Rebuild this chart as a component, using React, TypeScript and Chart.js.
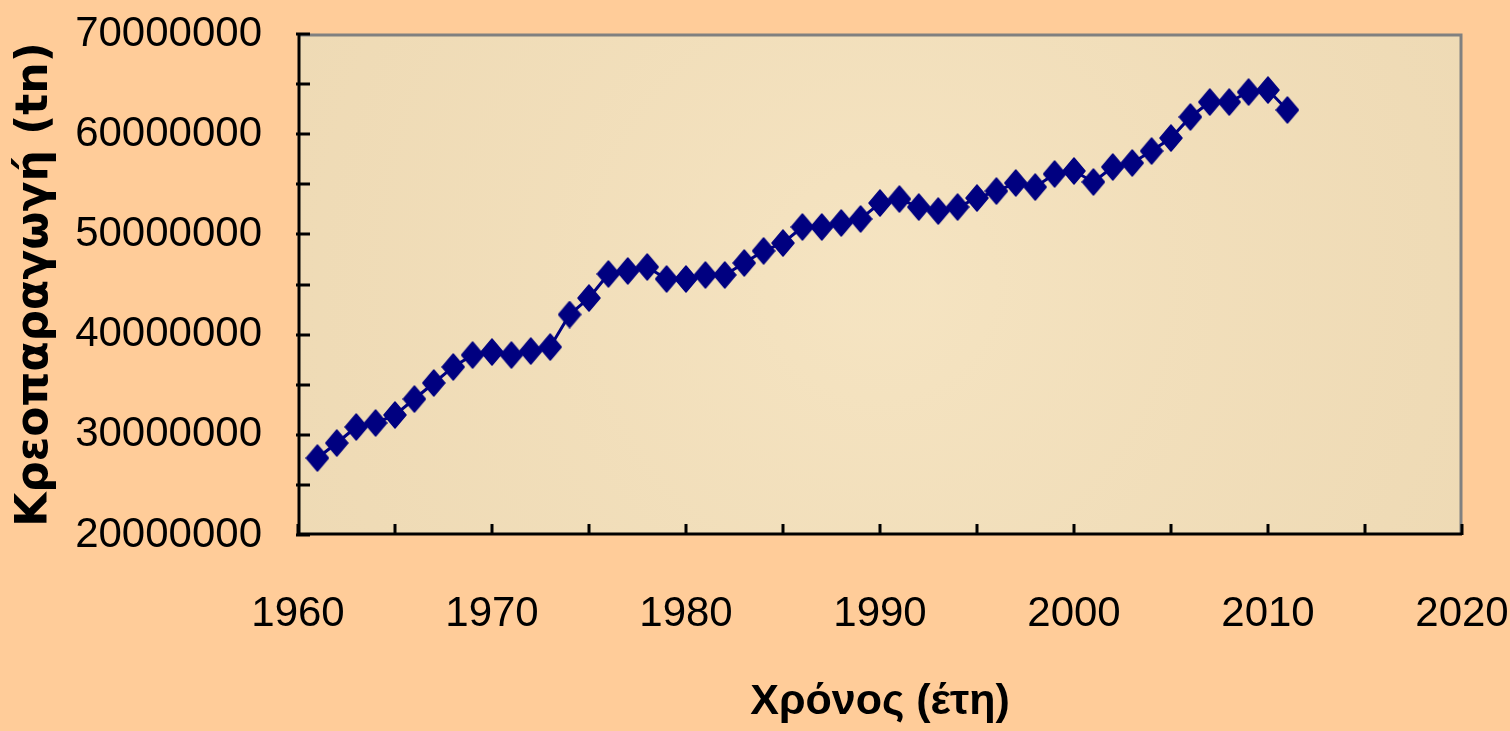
import React, { useEffect, useRef } from "react";
import { Chart, registerables } from "chart.js";

Chart.register(...registerables);

const years: number[] = [
  1961, 1962, 1963, 1964, 1965, 1966, 1967, 1968, 1969, 1970,
  1971, 1972, 1973, 1974, 1975, 1976, 1977, 1978, 1979, 1980,
  1981, 1982, 1983, 1984, 1985, 1986, 1987, 1988, 1989, 1990,
  1991, 1992, 1993, 1994, 1995, 1996, 1997, 1998, 1999, 2000,
  2001, 2002, 2003, 2004, 2005, 2006, 2007, 2008, 2009, 2010, 2011,
];

const meatProduction: number[] = [
  27680000, 29180000, 30780000, 31180000, 31980000, 33570000, 35170000, 36770000, 37960000, 38260000,
  37960000, 38360000, 38760000, 42000000, 43650000, 46050000, 46350000, 46750000, 45550000, 45550000,
  45950000, 45950000, 47150000, 48350000, 49140000, 50740000, 50740000, 51140000, 51540000, 53130000,
  53530000, 52730000, 52330000, 52730000, 53630000, 54330000, 55130000, 54730000, 56030000, 56330000,
  55230000, 56730000, 57130000, 58320000, 59620000, 61720000, 63210000, 63210000, 64210000, 64410000, 62420000,
];

const xTickYears: number[] = [1960, 1970, 1980, 1990, 2000, 2010, 2020];
const yTickValues: number[] = [20000000, 30000000, 40000000, 50000000, 60000000, 70000000];

const xTitle = "Χρόνος (έτη)";
const yTitle = "Κρεοπαραγωγή (tn)";

const PAGE_BG = "#FFCC99";
const PLOT_BG = "#F2DFBA";
const NAVY = "#000080";
const SANS = "'Liberation Sans', Arial, sans-serif";

function makeDiamond(): HTMLCanvasElement {
  const w = 24;
  const h = 28;
  const c = document.createElement("canvas");
  c.width = w;
  c.height = h;
  const ctx = c.getContext("2d")!;
  ctx.fillStyle = NAVY;
  ctx.strokeStyle = NAVY;
  ctx.lineWidth = 1.5;
  ctx.lineJoin = "round";
  ctx.beginPath();
  ctx.moveTo(w / 2, 1);
  ctx.lineTo(w - 1, h / 2);
  ctx.lineTo(w / 2, h - 1);
  ctx.lineTo(1, h / 2);
  ctx.closePath();
  ctx.fill();
  ctx.stroke();
  return c;
}

const framePlugin = {
  id: "frame",
  beforeDraw(chart: any) {
    const { ctx, chartArea: a } = chart;
    ctx.save();
    ctx.fillStyle = PAGE_BG;
    ctx.fillRect(0, 0, chart.width, chart.height);
    ctx.fillStyle = PLOT_BG;
    ctx.fillRect(a.left, a.top, a.right - a.left, a.bottom - a.top);
    const g = ctx.createRadialGradient(
      (a.left + a.right) / 2, (a.top + a.bottom) / 2, 50,
      (a.left + a.right) / 2, (a.top + a.bottom) / 2, (a.right - a.left) / 1.6
    );
    g.addColorStop(0, "rgba(250,235,205,0.35)");
    g.addColorStop(1, "rgba(225,200,160,0.25)");
    ctx.fillStyle = g;
    ctx.fillRect(a.left, a.top, a.right - a.left, a.bottom - a.top);
    ctx.restore();
  },
  beforeDatasetsDraw(chart: any) {
    const { ctx, chartArea: a, scales } = chart;
    ctx.save();
    ctx.strokeStyle = "#808080";
    ctx.lineWidth = 3;
    ctx.beginPath();
    ctx.moveTo(a.left, a.top + 1);
    ctx.lineTo(a.right - 1, a.top + 1);
    ctx.lineTo(a.right - 1, a.bottom);
    ctx.stroke();
    ctx.strokeStyle = "#000000";
    ctx.lineWidth = 3;
    ctx.beginPath();
    ctx.moveTo(a.left + 1, a.top);
    ctx.lineTo(a.left + 1, a.bottom - 1);
    ctx.lineTo(a.right, a.bottom - 1);
    ctx.stroke();
    const xs = scales.x;
    const ys = scales.y;
    ctx.beginPath();
    for (let v = xs.min; v <= xs.max; v += 5) {
      const px = Math.round(xs.getPixelForValue(v));
      ctx.moveTo(px, a.bottom);
      ctx.lineTo(px, a.bottom - 11);
    }
    for (let v = ys.min; v <= ys.max; v += 5000000) {
      const py = Math.round(ys.getPixelForValue(v));
      ctx.moveTo(a.left - 2, py);
      ctx.lineTo(a.left + 12, py);
    }
    ctx.stroke();
    ctx.restore();
  },
};

export default function App() {
  const canvasRef = useRef<HTMLCanvasElement | null>(null);

  useEffect(() => {
    if (!canvasRef.current) return;
    const diamond = makeDiamond();
    const chart = new Chart(canvasRef.current, {
      type: "line",
      data: {
        datasets: [
          {
            label: yTitle,
            data: years.map((y, i) => ({ x: y, y: meatProduction[i] })),
            borderColor: NAVY,
            backgroundColor: NAVY,
            borderWidth: 3,
            pointStyle: diamond as any,
            pointRadius: 12,
            pointHoverRadius: 12,
            pointBackgroundColor: NAVY,
            pointBorderColor: NAVY,
            pointBorderWidth: 0,
            tension: 0,
          },
        ],
      },
      options: {
        animation: false,
        responsive: true,
        maintainAspectRatio: false,
        layout: { padding: 0 },
        plugins: { legend: { display: false }, tooltip: { enabled: false } },
        scales: {
          x: {
            type: "linear",
            min: 1960,
            max: 2020,
            afterFit: (s: any) => {
              s.height = 196;
              s.paddingLeft = 0;
              s.paddingRight = 48;
            },
            afterBuildTicks: (s: any) => { s.ticks = xTickYears.map((v) => ({ value: v })); },
            border: { display: false },
            grid: { display: false, drawTicks: false },
            ticks: {
              color: "#000",
              font: { family: SANS, size: 42 },
              padding: 54,
              maxRotation: 0,
              callback: (v: any) => String(v),
            },
            title: {
              display: true,
              text: xTitle,
              color: "#000",
              font: { family: SANS, size: 43, weight: "bold", lineHeight: 1 },
              padding: { top: 0, bottom: 7 },
            },
          },
          y: {
            type: "linear",
            min: 20000000,
            max: 70000000,
            afterFit: (s: any) => {
              s.width = 298;
              s.paddingTop = 34;
              s.paddingBottom = 0;
            },
            afterBuildTicks: (s: any) => { s.ticks = yTickValues.map((v) => ({ value: v })); },
            border: { display: false },
            grid: { display: false, drawTicks: false },
            ticks: {
              color: "#000",
              font: { family: SANS, size: 42 },
              padding: 36,
              callback: (v: any) => String(v),
            },
            title: {
              display: true,
              text: yTitle,
              color: "#000",
              font: { family: "'DejaVu Sans', Verdana, sans-serif", size: 44, weight: "bold", lineHeight: 1 },
              padding: { top: 14, bottom: 0 },
            },
          },
        },
      },
      plugins: [framePlugin],
    });
    return () => chart.destroy();
  }, []);

  return (
    <div style={{ position: "fixed", left: 0, top: 0, width: 1510, height: 731, background: PAGE_BG }}>
      <canvas ref={canvasRef} />
    </div>
  );
}
